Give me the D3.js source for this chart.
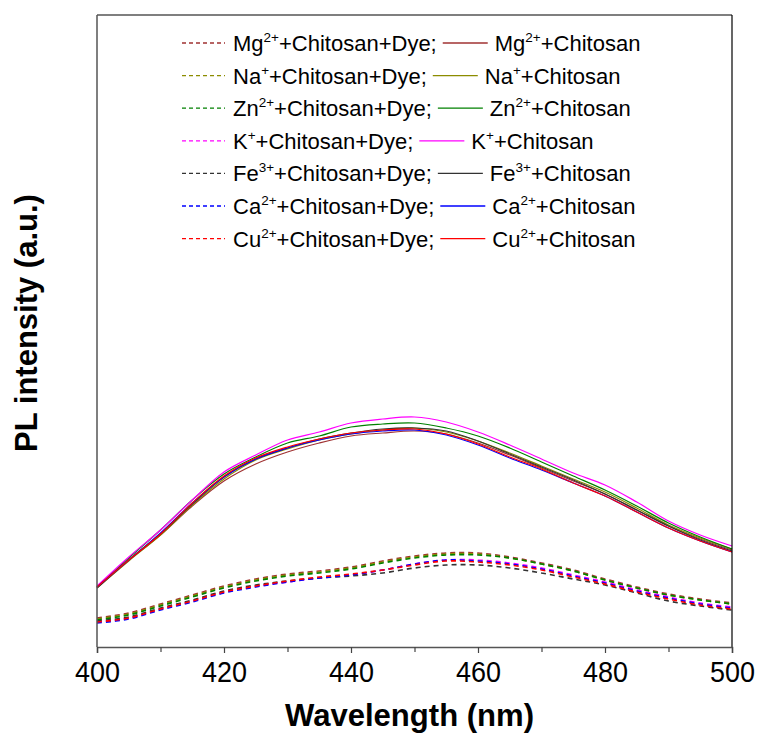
<!DOCTYPE html>
<html>
<head>
<meta charset="utf-8">
<script src="https://cdn.jsdelivr.net/npm/d3@7/dist/d3.min.js"></script>
<style>
  html, body { margin: 0; padding: 0; background: #fff; }
  svg { display: block; font-family: "Liberation Sans", Arial, sans-serif; }
</style>
</head>
<body>
<svg id="chart" width="759" height="736"></svg>
<script>
// ---- data (PL intensity, arbitrary units) ----
const wavelength = [400,405,410,415,420,425,430,435,440,445,450,455,460,465,470,475,480,485,490,495,500];
const ions = ["Mg", "Na", "Zn", "K", "Fe", "Ca", "Cu"];
const charges = ["2+", "+", "2+", "+", "3+", "2+", "2+"];
const colors = ["#a03232", "#8c8c00", "#008000", "#ff00ff", "#333333", "#0000ff", "#ff0000"];

// ion + chitosan (solid)
const MgChitosan = [60,87,112,141,166,183,195,204,211,214,216,213,204,192,179,166,153,137,121,108,97];
const NaChitosan = [59,86,112,142,168,187,198,207,213,217,219,215,206,194,181,168,155,139,122,109,98];
const ZnChitosan = [60,89,117,147,173,190,204,211,220,223,224,219,211,199,185,171,157,141,124,110,98];
const KChitosan  = [61,90,117,147,175,192,207,215,224,228,230,225,215,202,188,174,162,145,126,112,101];
const FeChitosan = [59,87,113,143,170,188,199,208,214,218,219,216,206,193,180,167,153,137,121,107,96];
const CaChitosan = [60,87,114,144,170,188,199,207,213,216,217,212,202,189,177,164,151,135,119,106,95];
const CuChitosan = [60,87,113,144,171,189,200,208,214,217,218,213,203,190,178,164,151,135,119,106,95];

// ion + chitosan + dye (dashed)
const MgChitosanDye = [29,34,43,52,61,68,73,76,80,86,91,94,94,90,84,77,68,60,53,48,44];
const NaChitosanDye = [28,33,42,51,60,67,72,75,79,85,90,93,93,89,83,76,67,59,52,47,43];
const ZnChitosanDye = [27,32,41,50,59,66,71,74,78,84,89,92,92,89,83,76,67,59,52,47,43];
const KChitosanDye  = [25,29,38,46,55,61,65,69,72,77,83,87,87,84,79,72,65,57,50,44,40];
const FeChitosanDye = [26,30,39,47,56,62,66,69,71,74,79,82,82,79,74,68,62,54,46,41,37];
const CaChitosanDye = [24,28,37,45,54,60,65,69,72,77,83,87,86,83,78,71,64,56,49,43,39];
const CuChitosanDye = [25,29,38,46,55,61,66,70,73,77,82,86,85,82,77,70,63,55,48,42,38];

const solidSeries = [MgChitosan, NaChitosan, ZnChitosan, KChitosan, FeChitosan, CaChitosan, CuChitosan];
const dashedSeries = [MgChitosanDye, NaChitosanDye, ZnChitosanDye, KChitosanDye, FeChitosanDye, CaChitosanDye, CuChitosanDye];

const xTicksMajor = [400, 420, 440, 460, 480, 500];
const xTicksMinor = [410, 430, 450, 470, 490];

// ---- layout ----
const svg = d3.select("#chart");
const mLeft = 97, mRight = 732, mTop = 15, mBottom = 647;

const x = d3.scaleLinear().domain([400, 500]).range([mLeft, mRight]);
const y = d3.scaleLinear().domain([0, 632]).range([mBottom, mTop]);

const line = d3.line()
  .x((d, i) => x(wavelength[i]))
  .y(d => y(d))
  .curve(d3.curveCatmullRom.alpha(0.5));

const plot = svg.append("g");

ions.forEach((ion, k) => {
  plot.append("path")
    .attr("d", line(dashedSeries[k]))
    .attr("fill", "none")
    .attr("stroke", colors[k])
    .attr("stroke-width", 1.6)
    .attr("stroke-dasharray", "5,4");
});
ions.forEach((ion, k) => {
  plot.append("path")
    .attr("d", line(solidSeries[k]))
    .attr("fill", "none")
    .attr("stroke", colors[k])
    .attr("stroke-width", 1.2);
});

// ---- frame ----
svg.append("line").attr("x1", mLeft).attr("x2", mRight).attr("y1", mTop).attr("y2", mTop)
  .attr("stroke", "#555").attr("stroke-width", 1.5);
svg.append("line").attr("x1", mLeft).attr("x2", mLeft).attr("y1", mTop).attr("y2", mBottom)
  .attr("stroke", "#555").attr("stroke-width", 1.5);
svg.append("line").attr("x1", mRight).attr("x2", mRight).attr("y1", mTop).attr("y2", mBottom)
  .attr("stroke", "#000").attr("stroke-width", 1.2);

// x axis
const xAxis = d3.axisBottom(x).tickValues(xTicksMajor).tickSize(6).tickPadding(8).tickFormat(d3.format("d"));
const gx = svg.append("g").attr("transform", `translate(0,${mBottom})`).call(xAxis);
gx.select(".domain").attr("stroke", "#555").attr("stroke-width", 1.5);
gx.selectAll(".tick line").attr("stroke", "#444").attr("stroke-width", 1.2);
gx.selectAll(".tick text")
  .attr("font-size", 29)
  .attr("font-family", "Liberation Sans, Arial, sans-serif")
  .attr("fill", "#000")
  .attr("textLength", 45)
  .attr("lengthAdjust", "spacingAndGlyphs");
const xAxisMinor = d3.axisBottom(x).tickValues(xTicksMinor).tickSize(5).tickFormat("");
const gxm = svg.append("g").attr("transform", `translate(0,${mBottom})`).call(xAxisMinor);
gxm.select(".domain").remove();
gxm.selectAll(".tick line").attr("stroke", "#444").attr("stroke-width", 1.2);

// axis titles
svg.append("text")
  .attr("x", (mLeft + mRight) / 2 - 5)
  .attr("y", 726)
  .attr("text-anchor", "middle")
  .attr("font-size", 31)
  .attr("font-weight", "bold")
  .attr("fill", "#000")
  .attr("textLength", 249)
  .attr("lengthAdjust", "spacingAndGlyphs")
  .text("Wavelength (nm)");

svg.append("text")
  .attr("transform", `translate(37,${(mTop + mBottom) / 2 - 8}) rotate(-90)`)
  .attr("text-anchor", "middle")
  .attr("font-size", 31)
  .attr("font-weight", "bold")
  .attr("fill", "#000")
  .text("PL intensity (a.u.)");

// ---- legend ----
const legendBaseline0 = 51, rowStep = 32.6;
const fs = 22, supFs = 13.5;
ions.forEach((ion, k) => {
  const by = legendBaseline0 + k * rowStep;
  const ly = by - 8;
  const g = svg.append("g");
  g.append("line").attr("x1", 182).attr("x2", 225).attr("y1", ly).attr("y2", ly)
    .attr("stroke", colors[k]).attr("stroke-width", 1.3).attr("stroke-dasharray", "4,3");
  const t1 = g.append("text").attr("x", 233).attr("y", by).attr("font-size", fs).attr("fill", "#000");
  t1.append("tspan").text(ion);
  t1.append("tspan").attr("font-size", supFs).attr("dy", -9).text(charges[k]);
  t1.append("tspan").attr("dy", 9).text("+Chitosan+Dye;");
  const w1 = t1.node().getComputedTextLength();
  const lx = 233 + w1 + 6;
  g.append("line").attr("x1", lx).attr("x2", lx + 45).attr("y1", ly).attr("y2", ly)
    .attr("stroke", colors[k]).attr("stroke-width", 1.3);
  const t2 = g.append("text").attr("x", lx + 52).attr("y", by).attr("font-size", fs).attr("fill", "#000");
  t2.append("tspan").text(ion);
  t2.append("tspan").attr("font-size", supFs).attr("dy", -9).text(charges[k]);
  t2.append("tspan").attr("dy", 9).text("+Chitosan");
});
</script>
</body>
</html>
